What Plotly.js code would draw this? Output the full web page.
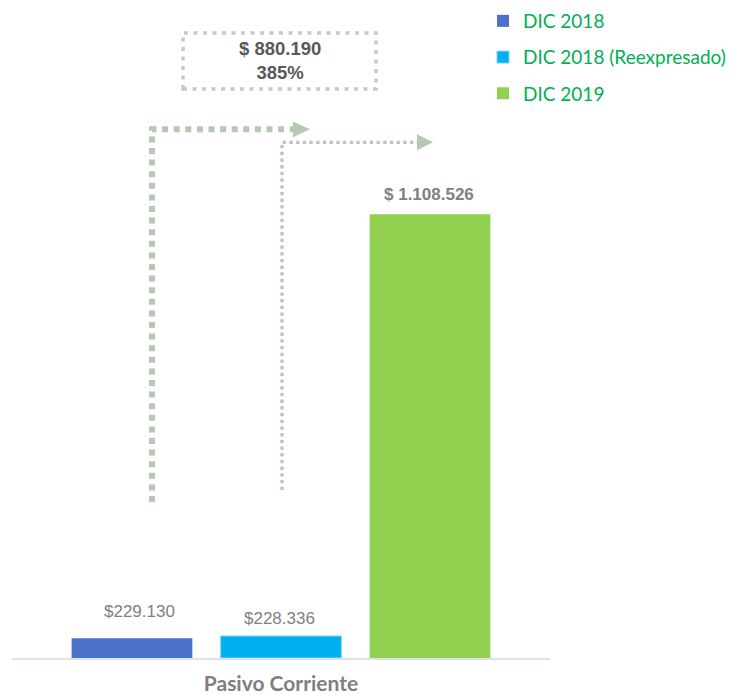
<!DOCTYPE html>
<html>
<head>
<meta charset="utf-8">
<script src="https://cdn.plot.ly/plotly-3.0.1.min.js"></script>
<style>
  html, body { margin: 0; padding: 0; background: #ffffff; }
  #chart { width: 746px; height: 695px; }
</style>
</head>
<body>
<div id="chart"></div>
<script>
// ---- data ----
const categories = ['Pasivo Corriente'];
const seriesNames = ['DIC 2018', 'DIC 2018 (Reexpresado)', 'DIC 2019'];
// values printed on the bars
const labelValues = [229130, 228336, 1108526];
const labelTexts = ['$229.130', '$228.336', '<b>$ 1.108.526</b>'];
// bar heights as drawn in the picture (first two bars are drawn short)
const drawnHeights = [49200, 55000, 1108526];
const seriesColors = ['#4b71c8', '#00b0f0', '#92d050'];
const variationText = '<b>$ 880.190</b><br><b>385%</b>';

// ---- layout helpers (pixel -> paper, plot area 12..550 x 20..658) ----
const PL = 12, PR = 550, PT = 20, PB = 658;
const W = 746, H = 695;
const px = x => (x - PL) / (PR - PL);
const py = y => (PB - y) / (PB - PT);

const traces = seriesNames.map((name, i) => ({
  type: 'bar',
  name: name,
  x: categories,
  y: [drawnHeights[i]],
  marker: {
    color: seriesColors[i],
    line: { width: i === 1 ? 1 : 0, color: '#7fd6f5' }
  },
  legendgroup: 'g' + i,
  hoverinfo: 'skip'
}));

const labelShifts = [-141.5, -1.5, 147.5];
const labelYShift = [27, 17, 20];
const labelSizes = [17, 17, 17];

const annotations = labelTexts.map((t, i) => ({
  x: categories[0], xref: 'x',
  y: drawnHeights[i], yref: 'y',
  xshift: labelShifts[i], yshift: labelYShift[i],
  xanchor: 'center', yanchor: 'middle',
  text: t, showarrow: false,
  font: { family: 'Liberation Sans, Arial, sans-serif', size: labelSizes[i], color: '#808080' }
}));

annotations.push({
  xref: 'paper', yref: 'paper',
  x: px(279.5), y: py(61),
  xanchor: 'center', yanchor: 'middle',
  text: variationText, showarrow: false,
  font: { family: 'Liberation Sans, Arial, sans-serif', size: 18.5, color: '#595959' }
});

const arrowColor = '#b6c8b4';
const P = (x, y) => px(x).toFixed(5) + ',' + py(y).toFixed(5);

const shapes = [
  // dotted box
  { type: 'rect', xref: 'paper', yref: 'paper',
    x0: px(183), x1: px(376), y0: py(89), y1: py(33),
    line: { color: '#c8c8c8', width: 3.5, dash: '4px,5.5px' }, fillcolor: 'rgba(0,0,0,0)' },
  // arrow 1
  { type: 'path', xref: 'paper', yref: 'paper',
    path: 'M' + P(152, 502) + ' L' + P(152, 129.3) + ' L' + P(293, 129.3),
    line: { color: arrowColor, width: 6, dash: '6px,5.6px' } },
  { type: 'path', xref: 'paper', yref: 'paper',
    path: 'M' + P(293, 121.5) + ' L' + P(310, 129.3) + ' L' + P(293, 137.3) + ' Z',
    fillcolor: arrowColor, line: { width: 0 } },
  // arrow 2
  { type: 'path', xref: 'paper', yref: 'paper',
    path: 'M' + P(282, 490) + ' L' + P(282, 142.3) + ' L' + P(417, 142.3),
    line: { color: arrowColor, width: 3.3, dash: '3.3px,3.4px' } },
  { type: 'path', xref: 'paper', yref: 'paper',
    path: 'M' + P(417, 134.3) + ' L' + P(433, 142.3) + ' L' + P(417, 150.3) + ' Z',
    fillcolor: arrowColor, line: { width: 0 } }
];

const layout = {
  width: W, height: H,
  margin: { l: PL, r: W - PR, t: PT, b: H - PB, autoexpand: false },
  paper_bgcolor: '#ffffff', plot_bgcolor: '#ffffff',
  font: { family: 'Liberation Sans, Arial, sans-serif' },
  barmode: 'group',
  bargap: 0.169,
  bargroupgap: 0.19,
  showlegend: true,
  legend: {
    xref: 'container', yref: 'container',
    x: 483 / W, y: 1 - 2 / H,
    xanchor: 'left', yanchor: 'top',
    traceorder: 'grouped',
    tracegroupgap: 8.5,
    bgcolor: 'rgba(0,0,0,0)',
    font: { family: 'Lato, Carlito, sans-serif', size: 19, color: '#00b050' }
  },
  xaxis: {
    type: 'category',
    showline: true, linecolor: '#dde2ea', linewidth: 2,
    showgrid: false, zeroline: false, ticks: '',
    ticklabelstandoff: 6,
    tickfont: { family: 'Lato, Carlito, sans-serif', size: 21, color: '#7f7f7f', weight: 'bold' },
    fixedrange: true
  },
  yaxis: {
    range: [0, 1594000],
    visible: false, showgrid: false, zeroline: false,
    fixedrange: true
  },
  annotations: annotations,
  shapes: shapes
};

Plotly.newPlot('chart', traces, layout, { displayModeBar: false, staticPlot: true });
</script>
</body>
</html>
